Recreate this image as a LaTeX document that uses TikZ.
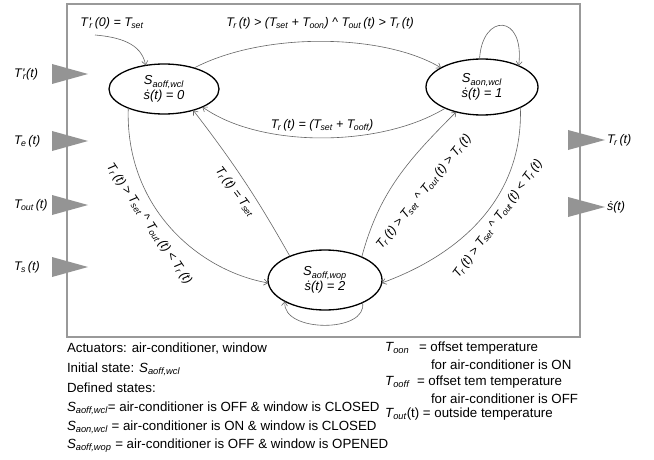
\documentclass[tikz,border=0pt]{standalone}
\usepackage{fontspec}
\setmainfont{Liberation Sans}
\usetikzlibrary{arrows.meta,shapes.geometric}
\newcommand{\Tv}[1]{\textit{T}\kern-0.6pt\textsubscript{\itshape #1}}
\newcommand{\Tpr}{\textit{T\kern0.6pt\textquotesingle}\kern-1.8pt\textsubscript{\itshape r}}
\newcommand{\Sv}[1]{\textit{S}\textsubscript{\itshape #1}}
\newcommand{\sd}{\textit{\.{s}}}
\newcommand{\lnd}{\textasciicircum}
\begin{document}
\begin{tikzpicture}[x=1pt,y=1pt,
  every node/.style={inner sep=0pt,outer sep=0pt},
  state/.style={ellipse,draw=black,line width=1.3pt,align=center,
    font=\fontsize{13}{15}\selectfont\itshape},
  conn/.style={draw=black!60,line width=0.6pt,-{Straight Barb[length=4pt,width=6pt]}},
  lbl/.style={font=\fontsize{12.5}{14}\selectfont\itshape},
  io/.style={font=\fontsize{12.5}{14}\selectfont\itshape},
  leg/.style={font=\fontsize{13.3}{15}\selectfont,anchor=west},
  tri/.style={fill=black!42},
  frame/.style={draw=black!40,line width=1.3pt}]
\useasboundingbox (0,0) rectangle (654,459);
\fill[white] (0,0) rectangle (654,459);
\draw[frame] (67,122) rectangle (580,455);
% input / output triangles
\foreach \yy in {385,318,254,192} {\fill[tri] (52,\yy+10) -- (88,\yy) -- (52,\yy-10) -- cycle;}
\foreach \yy in {319,252} {\fill[tri] (568,\yy+10) -- (605,\yy) -- (568,\yy-10) -- cycle;}
\node[io,anchor=west] (in1) at (14,385) {\Tpr(t)};
\node[io,anchor=west] (in2) at (14,318) {\Tv{e}\,(t)};
\node[io,anchor=west] (in3) at (14,254) {\Tv{out}\,(t)};
\node[io,anchor=west] (in4) at (14,192) {\Tv{s}\,(t)};
\node[io,anchor=west] (out1) at (607,319) {\Tv{r}\,(t)};
\node[io,anchor=west] (out2) at (607,252) {\sd(t)};
% states
\node[state,minimum width=110pt,minimum height=50pt] (e1) at (164,370) {\Sv{aoff,wcl}\\\sd(t) = 0};
\node[state,minimum width=112pt,minimum height=56pt] (e2) at (482,372) {\Sv{aon,wcl}\\\sd(t) = 1};
\node[state,minimum width=114pt,minimum height=60pt] (e3) at (325,179) {\Sv{aoff,wop}\\\sd(t) = 2};
% initial
\coordinate (init) at (95,424);
\node[lbl] (linit) at (112,436) {\Tpr\,(0) = \Tv{set}};
\draw[conn] (init) to[out=-5,in=100] (e1.128);
% transitions
\draw[conn] (e1.35) .. controls (265,428) and (385,425) .. (e2.155);
\node[lbl] (l12) at (320,436) {\Tv{r}\,(t) > (\Tv{set} + \Tv{oon}) \lnd\ \Tv{out}\,(t) > \Tv{r}\,(t)};
\draw[conn] (e2.210) .. controls (380,311) and (260,311) .. (e1.-25);
\node[lbl] (l21) at (322,334) {\Tv{r}\,(t) = (\Tv{set} + \Tv{ooff})};
\draw[conn] (e2.95) .. controls (482,446) and (525,446) .. (e2.30);
\draw[conn] (e1.208) .. controls (125,250) and (200,188) .. (e3.183);
\node[lbl,rotate=-56] (l13) at (149,235) {\Tv{r}\,(t) > \Tv{set} \lnd\ \Tv{out}\,(t) < \Tv{r}\,(t)};
\draw[conn] (e3.146) to[bend right=4] (e1.-36);
\node[lbl,rotate=-53] (l31) at (235,267) {\Tv{r}\,(t) = \Tv{set}};
\draw[conn] (e3.32) to[out=75,in=225] (e2.224);
\node[lbl,rotate=51] (l32) at (424,267) {\Tv{r}\,(t) > \Tv{set} \lnd\ \Tv{out}\,(t) > \Tv{r}\,(t)};
\draw[conn] (e2.-28) to[out=-88,in=20] (e3.-3);
\node[lbl,rotate=54] (l23) at (498,240) {\Tv{r}\,(t) > \Tv{set} \lnd\ \Tv{out}\,(t) < \Tv{r}\,(t)};
\draw[conn] (e3.-31) .. controls (368,126) and (282,126) .. (e3.208);
% legend
\node[leg] (g1) at (67,110) {Actuators: air-conditioner, window};
\node[leg] (g2) at (67,90) {Initial state: \Sv{aoff,wcl}};
\node[leg] (g3) at (67,71) {Defined states:};
\node[leg] (g4) at (67,51) {\Sv{aoff,wcl}= air-conditioner is OFF \& window is CLOSED};
\node[leg] (g5) at (67,32) {\Sv{aon,wcl} = air-conditioner is ON \& window is CLOSED};
\node[leg] (g6) at (67,13) {\Sv{aoff,wop} = air-conditioner is OFF \& window is OPENED};
\node[leg] (r1a) at (385,111) {\Tv{oon}};
\node[leg] (r1b) at (419,111) {= offset temperature};
\node[leg] (r2) at (431,94) {for air-conditioner is ON};
\node[leg] (r3a) at (385,77) {\Tv{ooff}};
\node[leg] (r3b) at (417,77) {= offset tem temperature};
\node[leg] (r4) at (431,60) {for air-conditioner is OFF};
\node[leg] (r5) at (385,45) {\Tv{out}(t) = outside temperature};
\end{tikzpicture}
\end{document}
